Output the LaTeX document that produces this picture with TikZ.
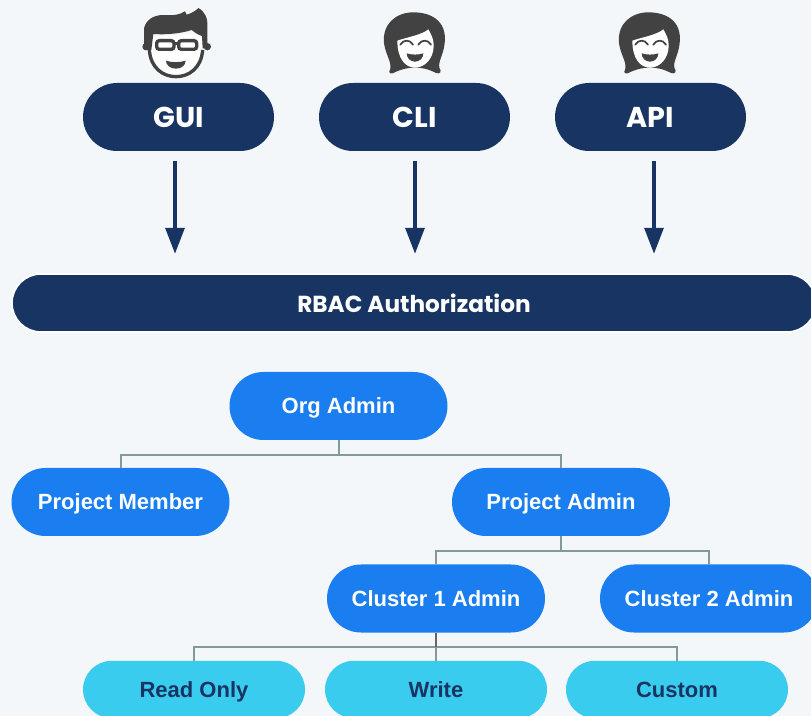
\documentclass[tikz,border=0pt]{standalone}
\usepackage{fontspec}
\newfontfamily\headfont{Poppins}
\newfontfamily\rolefont{Liberation Sans}
\usetikzlibrary{arrows.meta}

\definecolor{pagebg}{HTML}{F3F7FA}
\definecolor{navy}{HTML}{183462}
\definecolor{roleblue}{HTML}{1A7DF0}
\definecolor{leafcyan}{HTML}{3ACCEE}
\definecolor{linkgrey}{HTML}{839A9A}
\definecolor{icondark}{HTML}{424242}

\tikzset{
  entry/.style={rectangle, fill=navy, text=white, rounded corners=25.5pt, minimum width=143.25pt, minimum height=51pt, inner sep=0pt, font=\headfont\fontsize{21.5}{24}\selectfont\bfseries},
  band/.style={rectangle, fill=navy, draw=white, line width=1.2pt, text=white, rounded corners=21.75pt, minimum width=603pt, minimum height=43.5pt, inner sep=0pt, font=\headfont\fontsize{17.4}{20}\selectfont\bfseries},
  role/.style={rectangle, fill=roleblue, text=white, rounded corners=25.5pt, minimum width=163.5pt, minimum height=51pt, inner sep=0pt, text height=12pt, text depth=0.6pt, font=\rolefont\fontsize{16.5}{18}\selectfont\bfseries},
  leaf/.style={rectangle, fill=leafcyan, text=navy, rounded corners=21.5pt, minimum width=166.5pt, minimum height=43pt, inner sep=0pt, text height=12pt, text depth=0.6pt, font=\rolefont\fontsize{16.5}{18}\selectfont\bfseries},
  flow/.style={draw=navy, line width=3pt, -{Triangle[length=19.5pt,width=14pt]}, shorten <=7.5pt, shorten >=14.5pt},
  link/.style={draw=linkgrey, line width=1.5pt},
}

\newcommand{\womanface}[2]{
  \begin{scope}[shift={(#1,#2)}, x=0.25pt, y=-0.25pt]
    \fill[icondark] (88,215) .. controls (100,190) and (78,170) .. (72,130) .. controls (66,70) and (110,37) .. (160,37) .. controls (210,37) and (262,60) .. (254,130) .. controls (250,170) and (228,190) .. (242,212) .. controls (242,222) and (232,222) .. (222,216) .. controls (205,208) and (190,203) .. (165,203) .. controls (140,203) and (125,208) .. (106,216) .. controls (98,222) and (88,222) .. (88,215) -- cycle;
    \fill[white] (112,122) .. controls (140,112) and (185,105) .. (205,88) .. controls (215,105) and (222,120) .. (221,140) .. controls (220,175) and (195,203) .. (165,203) .. controls (135,203) and (112,175) .. (112,122) -- cycle;
    \draw[icondark, line width=1.3pt, line cap=round] (121,134) .. controls (130,118) and (150,118) .. (159,134);
    \draw[icondark, line width=1.3pt, line cap=round] (175,134) .. controls (184,118) and (204,118) .. (213,134);
    \fill[icondark] (140,160) .. controls (155,165) and (175,165) .. (190,160) .. controls (190,175) and (178,185) .. (165,185) .. controls (152,185) and (140,175) .. (140,160) -- cycle;
  \end{scope}
}

\begin{document}
\begin{tikzpicture}[x=0.75pt, y=-0.75pt]
  \clip (0,0) rectangle (811,716);
  \fill[pagebg] (0,0) rectangle (811,716);

  % icons
  \begin{scope}[shift={(120,0)}, x=0.25pt, y=-0.25pt]
    \fill[white] (92,110) -- (245,100) -- (248,170) .. controls (240,205) and (205,232) .. (168,232) .. controls (130,232) and (98,205) .. (90,170) -- cycle;
    \draw[icondark, line width=2.5pt] (88,150) .. controls (92,205) and (130,230) .. (168,230) .. controls (206,230) and (244,205) .. (248,150);
    \fill[icondark] (78,140) circle [radius=11];
    \fill[icondark] (262,140) circle [radius=11];
    \fill[icondark] (72,150) -- (72,85) .. controls (78,60) and (100,45) .. (130,45) .. controls (155,47) and (180,45) .. (195,34) -- (200,44) .. controls (215,40) and (228,32) .. (235,24) .. controls (255,35) and (264,55) .. (262,80) -- (262,145) -- (248,145) -- (246,108) .. controls (235,105) and (225,98) .. (215,90) .. controls (185,100) and (140,105) .. (100,102) -- (94,150) -- cycle;
    \draw[icondark, line width=2.5pt, rounded corners=2pt, fill=white] (110,122) rectangle (162,148);
    \draw[icondark, line width=2.5pt, rounded corners=2pt, fill=white] (176,122) rectangle (230,148);
    \draw[icondark, line width=2.5pt] (162,130) -- (176,130);
    \fill[icondark] (138,182) .. controls (155,188) and (180,188) .. (197,182) .. controls (197,195) and (185,206) .. (168,206) .. controls (150,206) and (138,195) .. (138,182) -- cycle;
  \end{scope}
  \womanface{360}{0}
  \womanface{595}{0}

  % access paths
  \node (gui) [entry] at (178.5,117) {GUI};
  \node (cli) [entry] at (414.5,117) {CLI};
  \node (api) [entry] at (650.5,117) {API};
  \node (rbac) [band] at (414,303) {RBAC Authorization};

  \coordinate (guitail) at (175,151);
  \coordinate (clitail) at (415,151);
  \coordinate (apitail) at (654,151);
  \draw[flow] (guitail) -- (guitail |- rbac.north);
  \draw[flow] (clitail) -- (clitail |- rbac.north);
  \draw[flow] (apitail) -- (apitail |- rbac.north);

  % role tree
  \node (org) [role] at (338.5,406) {Org Admin};
  \node (member) [role] at (120.5,502) {Project Member};
  \node (project) [role] at (561,502) {Project Admin};
  \node (clusterone) [role] at (436,598.5) {Cluster 1 Admin};
  \node (clustertwo) [role] at (709,598.5) {Cluster 2 Admin};
  \node (readonly) [leaf] at (194,689.5) {Read Only};
  \node (write) [leaf] at (436,689.5) {Write};
  \node (custom) [leaf] at (677,689.5) {Custom};

  \coordinate (orgbus) at (338.5,455);
  \coordinate (projectbus) at (561,551);
  \coordinate (clusterbus) at (436,647);
  \draw[link] (org.south) -- (orgbus) -| (member.north);
  \draw[link] (orgbus) -| (project.north);
  \draw[link] (project.south) -- (projectbus) -| (clusterone.north);
  \draw[link] (projectbus) -| (clustertwo.north);
  \draw[link] (clusterbus) -| (readonly.north);
  \draw[link] (clusterbus) -| (custom.north);
  \draw[link] (clusterbus) -- (write.north);
  \draw[draw=black!60, line width=1.5pt] (clusterone.south) -- (clusterbus);
\end{tikzpicture}
\end{document}
